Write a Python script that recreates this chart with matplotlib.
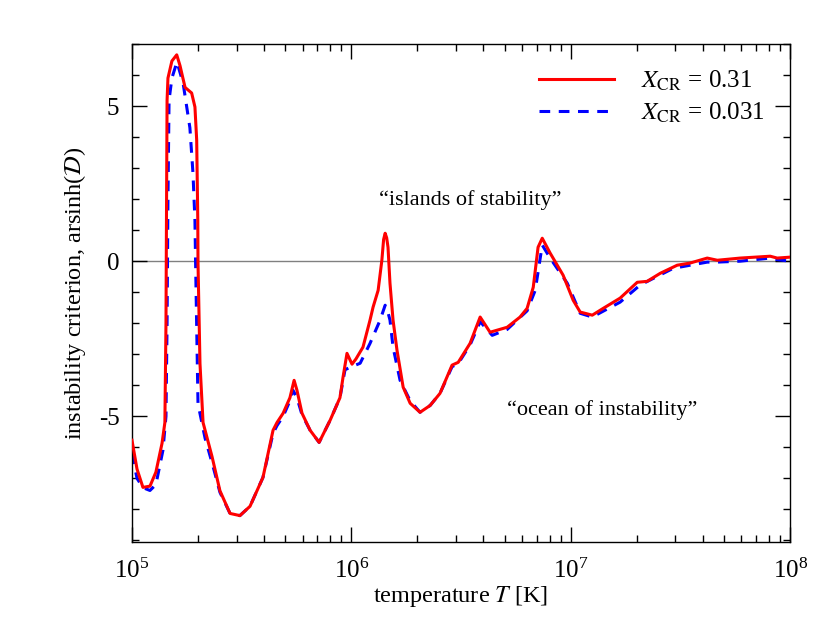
import numpy as np
import matplotlib
matplotlib.use("Agg")
import matplotlib.pyplot as plt

plt.rcParams['font.family'] = ['Liberation Serif', 'DejaVu Serif']
plt.rcParams['mathtext.fontset'] = 'stix'

# log10(T) and arsinh(D) for X_CR = 0.31
logT_hi = [5.000, 5.023, 5.050, 5.082, 5.109, 5.137, 5.150, 5.155, 5.157, 5.160,
           5.164, 5.182, 5.204, 5.219, 5.242, 5.272, 5.287, 5.295, 5.300, 5.301,
           5.310, 5.324, 5.365, 5.401, 5.447, 5.492, 5.538, 5.597, 5.643, 5.661,
           5.689, 5.720, 5.739, 5.752, 5.775, 5.812, 5.853, 5.903, 5.948, 5.962,
           5.980, 6.003, 6.021, 6.053, 6.085, 6.099, 6.122, 6.139, 6.147, 6.154,
           6.161, 6.167, 6.176, 6.190, 6.208, 6.236, 6.268, 6.313, 6.359, 6.404,
           6.459, 6.487, 6.541, 6.587, 6.632, 6.710, 6.769, 6.801, 6.829, 6.851,
           6.870, 6.906, 6.965, 7.011, 7.043, 7.098, 7.148, 7.225, 7.303, 7.348,
           7.408, 7.485, 7.544, 7.622, 7.668, 7.772, 7.909, 7.941, 8.000]
crit_hi = [-5.77, -6.70, -7.29, -7.25, -6.80, -5.87, -5.20, -2.00, 1.00, 5.19,
           5.90, 6.45, 6.65, 6.30, 5.60, 5.42, 4.97, 3.90, 1.32, -0.06,
           -3.30, -5.20, -6.30, -7.40, -8.13, -8.20, -7.90, -6.97, -5.45, -5.20,
           -4.90, -4.40, -3.84, -4.16, -4.90, -5.45, -5.84, -5.13, -4.40, -3.74,
           -2.97, -3.32, -3.15, -2.77, -1.90, -1.48, -0.94, 0.03, 0.70, 0.90,
           0.75, 0.45, -0.71, -1.90, -2.87, -4.06, -4.58, -4.87, -4.65, -4.26,
           -3.35, -3.26, -2.65, -1.80, -2.29, -2.13, -1.80, -1.52, -0.84, 0.45,
           0.74, 0.26, -0.45, -1.26, -1.64, -1.74, -1.52, -1.19, -0.68, -0.65,
           -0.39, -0.13, -0.06, 0.10, 0.03, 0.10, 0.16, 0.10, 0.13]

# log10(T) and arsinh(D) for X_CR = 0.031
logT_lo = [5.000, 5.023, 5.050, 5.082, 5.109, 5.141, 5.155, 5.160, 5.164, 5.169,
           5.182, 5.205, 5.233, 5.264, 5.278, 5.287, 5.290, 5.301, 5.333, 5.369,
           5.401, 5.447, 5.492, 5.538, 5.597, 5.643, 5.661, 5.689, 5.720, 5.734,
           5.752, 5.775, 5.812, 5.853, 5.903, 5.948, 5.971, 5.994, 6.040, 6.085,
           6.131, 6.154, 6.165, 6.176, 6.190, 6.222, 6.268, 6.313, 6.359, 6.404,
           6.459, 6.487, 6.541, 6.587, 6.642, 6.710, 6.801, 6.838, 6.870, 6.906,
           6.984, 7.043, 7.098, 7.225, 7.316, 7.467, 7.622, 7.668, 7.772, 7.909,
           7.941, 8.000]
crit_lo = [-6.20, -7.00, -7.30, -7.39, -7.20, -6.10, -5.00, -2.00, 2.00, 5.19,
           5.90, 6.42, 5.74, 4.30, 2.84, 1.32, -0.06, -4.60, -5.70, -6.60,
           -7.45, -8.13, -8.20, -7.90, -6.97, -5.55, -5.30, -5.00, -4.50, -4.16,
           -4.40, -4.95, -5.45, -5.84, -5.13, -4.40, -3.50, -3.42, -3.29, -2.65,
           -1.90, -1.42, -1.60, -1.90, -2.77, -3.84, -4.50, -4.87, -4.65, -4.26,
           -3.40, -3.30, -2.70, -1.95, -2.39, -2.20, -1.60, -0.94, 0.52, 0.10,
           -0.71, -1.68, -1.80, -1.32, -0.77, -0.23, -0.03, -0.03, 0.00, 0.10,
           0.05, 0.00]

T_hi = 10 ** np.array(logT_hi)
T_lo = 10 ** np.array(logT_lo)

fig = plt.figure(figsize=(8.3, 6.3), dpi=100)
ax = fig.add_axes([0.159, 0.1397, 0.793, 0.7905])

ax.axhline(0, color='gray', lw=1.0, zorder=1)
ax.plot(T_hi, crit_hi, color='red', lw=2.2, label=r'$X_{\rm CR}$ = 0.31', zorder=3)
ax.plot(T_lo, crit_lo, color='blue', lw=2.2, ls=(0, (3.5, 2.8)),
        label=r'$X_{\rm CR}$ = 0.031', zorder=2)

ax.set_xscale('log')
ax.set_xlim(1e5, 1e8)
ax.set_ylim(-9.05, 7.0)
ax.set_yticks([-5, 0, 5])
ax.set_yticklabels(['-5', '0', '5'])
ax.set_yticks(np.arange(-9, 8, 1), minor=True)

ax.tick_params(which='both', direction='in', top=True, right=True, labelsize=18, width=1)
ax.tick_params(which='major', length=11)
ax.tick_params(axis='x', which='major', pad=12)
ax.tick_params(axis='y', which='major', pad=9)
ax.tick_params(which='minor', length=5)
for s in ax.spines.values():
    s.set_linewidth(1.0)

ax.set_xlabel(r'temperature $T$ [K]', fontsize=17.5, labelpad=1)
ax.set_ylabel(r'instability criterion, arsinh($\mathcal{D}$)', fontsize=17.5, labelpad=8)

ax.text(10 ** 6.541, 1.97, '\u201cislands of stability\u201d', fontsize=16,
        ha='center', va='center')
ax.text(10 ** 7.143, -4.8, '\u201cocean of instability\u201d', fontsize=16,
        ha='center', va='center')

ax.legend(loc='upper right', frameon=False, fontsize=18, handlelength=3.0,
          handletextpad=1.1, labelspacing=0.3, borderaxespad=0.6)

fig.savefig('out.png', dpi=100)
